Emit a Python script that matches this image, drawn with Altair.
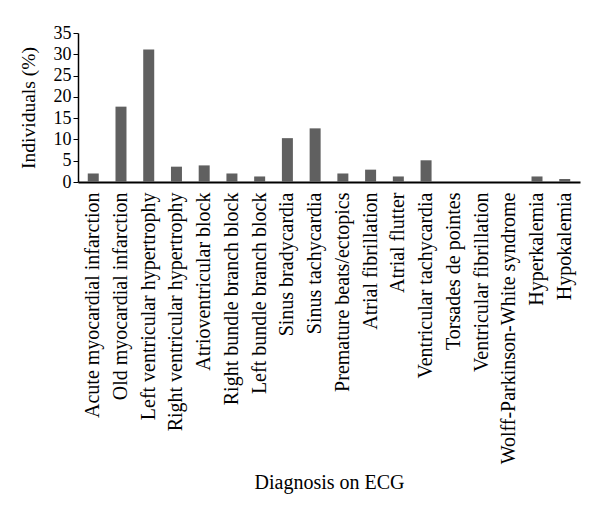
import altair as alt
import pandas as pd

categories = [
    "Acute myocardial infarction",
    "Old myocardial infarction",
    "Left ventricular hypertrophy",
    "Right ventricular hypertrophy",
    "Atrioventricular block",
    "Right bundle branch block",
    "Left bundle branch block",
    "Sinus bradycardia",
    "Sinus tachycardia",
    "Premature beats/ectopics",
    "Atrial fibrillation",
    "Atrial flutter",
    "Ventricular tachycardia",
    "Torsades de pointes",
    "Ventricular fibrillation",
    "Wolff-Parkinson-White syndrome",
    "Hyperkalemia",
    "Hypokalemia",
]
values = [2.0, 17.7, 31.1, 3.6, 3.9, 2.0, 1.3, 10.3, 12.6, 2.0, 2.9, 1.3, 5.1, 0, 0, 0, 1.3, 0.7]
y_ticks = [0, 5, 10, 15, 20, 25, 30, 35]

df = pd.DataFrame({"cat": categories, "val": values})
FONT = "Liberation Serif"

chart = alt.Chart(df).mark_bar(color="#606060", size=11).encode(
    x=alt.X("cat:N", sort=categories, title="Diagnosis on ECG",
            scale=alt.Scale(paddingInner=0, paddingOuter=0.05),
            axis=alt.Axis(labelAngle=-90, labelFontSize=20, labelFont=FONT, labelColor="black",
                          ticks=False, domainColor="black", domainWidth=2,
                          titleFont=FONT, titleFontSize=20, titleFontWeight="normal",
                          titleColor="black", labelPadding=10, labelLimit=400,
                          titleY=300, titleBaseline="middle")),
    y=alt.Y("val:Q", title="Individuals (%)",
            scale=alt.Scale(domain=[0, 35]),
            axis=alt.Axis(values=y_ticks, grid=False, labelFontSize=18, labelFont=FONT,
                          labelColor="black", tickColor="black", tickSize=5, labelPadding=2,
                          domainColor="black", domainWidth=1.5,
                          titleFont=FONT, titleFontSize=19.5, titleFontWeight="normal",
                          titleColor="black", titleX=-50, titleBaseline="middle")),
).properties(
    width=502, height=149,
    autosize=alt.AutoSizeParams(type="none"),
    padding={"left": 70, "top": 25, "right": 10, "bottom": 320},
).configure_view(stroke=None)

chart.save("out.html", embed_options={"renderer": "svg", "actions": False})
